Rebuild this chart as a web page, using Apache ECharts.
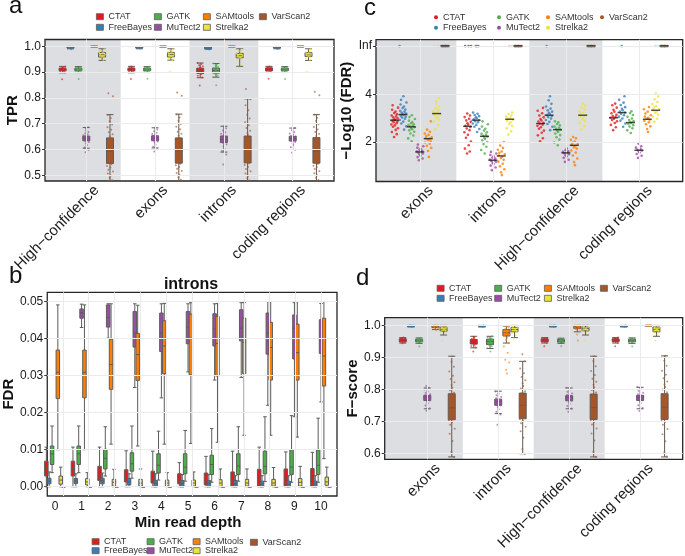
<!DOCTYPE html>
<html>
<head>
<meta charset="utf-8">
<script src="https://cdn.jsdelivr.net/npm/echarts@6/dist/echarts.min.js"></script>
<style>
html, body { margin: 0; padding: 0; background: #fff; }
#chart { width: 685px; height: 556px; }
</style>
</head>
<body>
<div id="chart"></div>
<script>
const tools = ['CTAT', 'FreeBayes', 'GATK', 'MuTect2', 'SAMtools', 'Strelka2', 'VarScan2'];
const toolColors = ['#e41a1c', '#377eb8', '#4daf4a', '#984ea3', '#ff7f00', '#ece33c', '#a65628'];

const regionsTPR = ['High−confidence', 'exons', 'introns', 'coding regions'];
const regionsOther = ['exons', 'introns', 'High−confidence', 'coding regions'];
const depths = ['0', '1', '2', '3', '4', '5', '6', '7', '8', '9', '10'];

const tprTicks = [0.5, 0.6, 0.7, 0.8, 0.9, 1.0];
const fdrTicks = [0, 0.01, 0.02, 0.03, 0.04, 0.05];
const logTicks = [2, 4, Infinity];
const fTicks = [0.6, 0.7, 0.8, 0.9, 1.0];
const INF = Infinity;

// ---- a: TPR, boxes [min, q1, median, q3, max] per region
const tprBoxCTAT = [[0.897, 0.905, 0.910, 0.915, 0.922], [0.897, 0.905, 0.910, 0.915, 0.922], [0.878, 0.895, 0.905, 0.915, 0.935], [0.898, 0.905, 0.911, 0.916, 0.922]];
const tprBoxFreeBayes = [[0.990, 0.993, 0.995, 0.997, 0.999], [0.990, 0.993, 0.995, 0.997, 0.999], [0.988, 0.991, 0.994, 0.996, 0.998], [0.990, 0.993, 0.995, 0.997, 0.999]];
const tprBoxGATK = [[0.898, 0.905, 0.910, 0.915, 0.921], [0.898, 0.905, 0.910, 0.915, 0.921], [0.880, 0.896, 0.906, 0.915, 0.933], [0.898, 0.905, 0.910, 0.915, 0.921]];
const tprBoxMuTect2 = [[0.605, 0.634, 0.643, 0.652, 0.685], [0.606, 0.634, 0.644, 0.653, 0.684], [0.590, 0.627, 0.639, 0.652, 0.690], [0.600, 0.633, 0.642, 0.651, 0.683]];
const tprBoxSAMtools = [[0.997, 0.998, 0.999, 1.0, 1.0], [0.997, 0.998, 0.999, 1.0, 1.0], [0.997, 0.998, 0.999, 1.0, 1.0], [0.997, 0.998, 0.999, 1.0, 1.0]];
const tprBoxStrelka2 = [[0.945, 0.958, 0.967, 0.976, 0.990], [0.946, 0.958, 0.968, 0.976, 0.990], [0.922, 0.955, 0.963, 0.972, 0.990], [0.945, 0.960, 0.966, 0.975, 0.990]];
const tprBoxVarScan2 = [[0.478, 0.546, 0.594, 0.645, 0.735], [0.478, 0.547, 0.595, 0.645, 0.737], [0.478, 0.548, 0.600, 0.652, 0.796], [0.478, 0.547, 0.594, 0.646, 0.735]];

// ---- a: TPR, single samples per region
const tprPtsCTAT = [
  [0.872, 0.899, 0.903, 0.905, 0.907, 0.908, 0.909, 0.910, 0.911, 0.912, 0.913, 0.914, 0.916, 0.918, 0.920],
  [0.873, 0.900, 0.904, 0.906, 0.907, 0.909, 0.910, 0.911, 0.912, 0.914, 0.915, 0.917, 0.919, 0.921],
  [0.848, 0.879, 0.886, 0.891, 0.895, 0.898, 0.901, 0.903, 0.905, 0.907, 0.909, 0.912, 0.915, 0.918, 0.922, 0.926, 0.931, 0.935],
  [0.874, 0.900, 0.904, 0.906, 0.908, 0.910, 0.911, 0.912, 0.913, 0.915, 0.917, 0.919, 0.921]
];
const tprPtsFreeBayes = [
  [0.988, 0.992, 0.994, 0.995, 0.996, 0.997, 0.998],
  [0.991, 0.993, 0.995, 0.996, 0.997, 0.998],
  [0.987, 0.990, 0.992, 0.993, 0.994, 0.995, 0.996, 0.997],
  [0.989, 0.993, 0.994, 0.995, 0.996, 0.997, 0.998]
];
const tprPtsGATK = [
  [0.873, 0.900, 0.904, 0.906, 0.908, 0.909, 0.910, 0.911, 0.912, 0.913, 0.915, 0.917, 0.919],
  [0.874, 0.901, 0.904, 0.906, 0.908, 0.909, 0.910, 0.912, 0.913, 0.914, 0.916, 0.918, 0.920],
  [0.849, 0.880, 0.887, 0.892, 0.896, 0.900, 0.903, 0.906, 0.908, 0.910, 0.913, 0.916, 0.920, 0.924, 0.929, 0.933],
  [0.873, 0.900, 0.904, 0.906, 0.908, 0.910, 0.911, 0.912, 0.914, 0.915, 0.917, 0.920]
];
const tprPtsMuTect2 = [
  [0.589, 0.598, 0.608, 0.617, 0.624, 0.629, 0.633, 0.636, 0.638, 0.640, 0.642, 0.644, 0.646, 0.648, 0.650, 0.652, 0.655, 0.659, 0.663, 0.668, 0.674, 0.680, 0.686],
  [0.592, 0.601, 0.611, 0.619, 0.626, 0.631, 0.634, 0.637, 0.640, 0.642, 0.644, 0.646, 0.648, 0.650, 0.653, 0.656, 0.660, 0.665, 0.671, 0.677, 0.684],
  [0.542, 0.581, 0.594, 0.604, 0.613, 0.620, 0.626, 0.630, 0.634, 0.637, 0.640, 0.643, 0.646, 0.649, 0.652, 0.656, 0.661, 0.667, 0.674, 0.682, 0.690],
  [0.587, 0.599, 0.609, 0.617, 0.624, 0.629, 0.633, 0.636, 0.639, 0.641, 0.643, 0.645, 0.647, 0.650, 0.653, 0.657, 0.662, 0.668, 0.675, 0.683]
];
const tprPtsSAMtools = [
  [0.997, 0.998, 0.999, 0.999, 1.0, 1.0],
  [0.997, 0.998, 0.999, 0.999, 1.0, 1.0],
  [0.996, 0.998, 0.998, 0.999, 1.0, 1.0],
  [0.997, 0.998, 0.999, 0.999, 1.0, 1.0]
];
const tprPtsStrelka2 = [
  [0.900, 0.944, 0.950, 0.955, 0.959, 0.962, 0.965, 0.968, 0.970, 0.973, 0.976, 0.979, 0.983, 0.988],
  [0.901, 0.945, 0.951, 0.956, 0.960, 0.963, 0.966, 0.969, 0.971, 0.974, 0.977, 0.980, 0.984, 0.988],
  [0.918, 0.930, 0.945, 0.951, 0.955, 0.958, 0.961, 0.963, 0.966, 0.969, 0.972, 0.976, 0.981, 0.987],
  [0.900, 0.946, 0.952, 0.957, 0.960, 0.963, 0.965, 0.968, 0.971, 0.974, 0.977, 0.981, 0.986, 0.989]
];
const tprPtsVarScan2 = [
  [0.481, 0.490, 0.499, 0.507, 0.515, 0.522, 0.530, 0.536, 0.543, 0.549, 0.556, 0.561, 0.568, 0.574, 0.581, 0.587, 0.592, 0.598, 0.604, 0.611, 0.617, 0.624, 0.631, 0.638, 0.644, 0.651, 0.659, 0.667, 0.676, 0.686, 0.697, 0.709, 0.722, 0.734, 0.806, 0.818],
  [0.483, 0.492, 0.501, 0.509, 0.517, 0.525, 0.532, 0.539, 0.545, 0.551, 0.557, 0.563, 0.570, 0.576, 0.582, 0.588, 0.594, 0.599, 0.606, 0.612, 0.619, 0.625, 0.632, 0.639, 0.645, 0.653, 0.661, 0.669, 0.678, 0.688, 0.699, 0.711, 0.724, 0.736, 0.808, 0.821],
  [0.480, 0.489, 0.498, 0.507, 0.516, 0.524, 0.532, 0.540, 0.547, 0.553, 0.560, 0.567, 0.574, 0.581, 0.588, 0.595, 0.601, 0.607, 0.614, 0.621, 0.628, 0.635, 0.642, 0.649, 0.656, 0.664, 0.673, 0.683, 0.694, 0.706, 0.720, 0.735, 0.752, 0.771, 0.795, 0.834],
  [0.482, 0.491, 0.500, 0.508, 0.516, 0.524, 0.531, 0.537, 0.544, 0.550, 0.556, 0.562, 0.568, 0.575, 0.581, 0.587, 0.593, 0.599, 0.605, 0.611, 0.618, 0.624, 0.631, 0.638, 0.645, 0.652, 0.660, 0.668, 0.677, 0.687, 0.698, 0.710, 0.723, 0.735, 0.810, 0.824]
];

// ---- b: FDR in introns by min read depth 0..10
const fdrBoxCTAT = [[0, 0.0029, 0.0049, 0.0069, 0.0107], [0, 0.0029, 0.0049, 0.0069, 0.0107], [0, 0.0017, 0.0030, 0.0055, 0.0107], [0, 0.0013, 0.0025, 0.0046, 0.0097], [0, 0.0010, 0.0018, 0.0042, 0.0096], [0, 0.0008, 0.0018, 0.0035, 0.0065], [0, 0.0005, 0.0015, 0.0037, 0.0082], [0, 0.0002, 0.0015, 0.0040, 0.0096], [0, 0.0002, 0.0020, 0.0047, 0.0107], [0, 0.0002, 0.0021, 0.0048, 0.0094], [0, 0.0002, 0.0021, 0.0049, 0.0093]];
const fdrBoxFreeBayes = [[0, 0.0008, 0.0015, 0.0023, 0.0040], [0, 0.0009, 0.0016, 0.0022, 0.0035], [0, 0.0008, 0.0016, 0.0023, 0.0037], [0, 0.0005, 0.0014, 0.0022, 0.0035], [0, 0, 0.0009, 0.0017, 0.0035], [0, 0, 0.0009, 0.0017, 0.0033], [0, 0, 0.0009, 0.0017, 0.0033], [0, 0, 0.0008, 0.0017, 0.0030], [0, 0, 0.0007, 0.0015, 0.0030], [0, 0, 0.0007, 0.0015, 0.0030], [0, 0, 0.0007, 0.0015, 0.0030]];
const fdrBoxGATK = [[0.0038, 0.0060, 0.0089, 0.0110, 0.0164], [0.0038, 0.0060, 0.0089, 0.0110, 0.0164], [0.0029, 0.0048, 0.0077, 0.0101, 0.0162], [0.0023, 0.0042, 0.0062, 0.0092, 0.0164], [0.0018, 0.0037, 0.0058, 0.0089, 0.0150], [0.0015, 0.0035, 0.0053, 0.0089, 0.0152], [0.0012, 0.0033, 0.0060, 0.0085, 0.0157], [0.0015, 0.0033, 0.0056, 0.0089, 0.0162], [0.0014, 0.0035, 0.0055, 0.0096, 0.0189], [0.0012, 0.0033, 0.0053, 0.0100, 0.0192], [0.0012, 0.0033, 0.0058, 0.0099, 0.0185]];
const fdrBoxMuTect2 = [null, [0.0430, 0.0455, 0.0470, 0.0480, 0.0493], [0.0401, 0.0431, 0.0457, 0.0491, 0.0494], [0.0268, 0.0377, 0.0415, 0.0473, 0.0494], [0.0240, 0.0365, 0.0415, 0.0469, 0.0494], [0.0310, 0.0386, 0.0431, 0.0473, 0.0494], [0.0288, 0.0380, 0.0426, 0.0467, 0.0494], [0.0295, 0.0394, 0.0428, 0.0478, 0.0497], [0.0220, 0.0358, 0.0415, 0.0469, 0.0500], [0.0189, 0.0345, 0.0428, 0.0464, 0.0497], [0.0229, 0.0360, 0.0393, 0.0451, 0.0495]];
const fdrBoxSAMtools = [[0.0100, 0.0238, 0.0309, 0.0369, 0.0491], [0.0100, 0.0240, 0.0309, 0.0369, 0.0491], [0.0115, 0.0263, 0.0330, 0.0398, 0.0494], [0.0110, 0.0287, 0.0357, 0.0414, 0.0490], [0.0115, 0.0305, 0.0380, 0.0448, 0.0495], [0.0117, 0.0302, 0.0401, 0.0466, 0.0497], [0.0120, 0.0299, 0.0387, 0.0460, 0.0495], [0.0139, 0.0306, 0.0390, 0.0455, 0.0497], [0.0139, 0.0288, 0.0376, 0.0444, 0.0500], [0.0134, 0.0288, 0.0362, 0.0439, 0.0500], [0.0076, 0.0272, 0.0353, 0.0455, 0.0500]];
const fdrBoxStrelka2 = [[0, 0.0007, 0.0018, 0.0029, 0.0053], [0, 0.0005, 0.0013, 0.0022, 0.0038], [0, 0.0002, 0.0012, 0.0020, 0.0047], [0, 0.0002, 0.0010, 0.0020, 0.0048], [0, 0.0002, 0.0010, 0.0018, 0.0038], [0, 0.0002, 0.0010, 0.0018, 0.0040], [0, 0.0001, 0.0010, 0.0019, 0.0048], [0, 0.0002, 0.0010, 0.0020, 0.0048], [0, 0.0002, 0.0010, 0.0020, 0.0052], [0, 0.0002, 0.0012, 0.0022, 0.0055], [0, 0.0004, 0.0013, 0.0026, 0.0053]];
const fdrBoxVarScan2 = [[0, 0, 0, 0, 0], [0, 0, 0, 0, 0], [0, 0, 0, 0, 0], [0, 0, 0, 0, 0], [0, 0, 0, 0, 0], [0, 0, 0, 0, 0], [0, 0, 0, 0, 0], [0, 0, 0, 0, 0], [0, 0, 0, 0, 0], [0, 0, 0, 0, 0], [0, 0, 0, 0, 0]];

// ---- c: -log10(FDR) per region (Inf = no false positives)
const logPtsCTAT = [
  [2.21, 2.33, 2.42, 2.51, 2.58, 2.64, 2.7, 2.74, 2.79, 2.83, 2.86, 2.9, 2.93, 2.96, 3.0, 3.04, 3.08, 3.12, 3.17, 3.22, 3.28, 3.36, 3.45, 3.55],
  [1.51, 1.6, 1.72, 1.86, 2.02, 2.18, 2.3, 2.41, 2.5, 2.57, 2.63, 2.68, 2.73, 2.79, 2.85, 2.91, 2.98, 3.05, 3.12, 3.2, INF, INF, INF],
  [2.03, 2.16, 2.28, 2.39, 2.48, 2.56, 2.62, 2.68, 2.73, 2.77, 2.81, 2.86, 2.91, 2.97, 3.04, 3.12, 3.21, 3.32, 3.44],
  [2.5, 2.62, 2.72, 2.8, 2.87, 2.93, 2.98, 3.02, 3.06, 3.1, 3.15, 3.21, 3.28, 3.36, 3.45, 3.55, 3.62]
];
const logPtsFreeBayes = [
  [2.52, 2.66, 2.78, 2.86, 2.93, 2.98, 3.03, 3.07, 3.11, 3.14, 3.17, 3.2, 3.24, 3.28, 3.32, 3.37, 3.43, 3.5, 3.58, 3.67, 3.78, 3.93, INF],
  [2.42, 2.55, 2.64, 2.72, 2.78, 2.83, 2.88, 2.92, 2.96, 3.0, 3.04, 3.09, 3.14, 3.19, 3.24, INF, INF, INF],
  [2.5, 2.64, 2.76, 2.85, 2.93, 2.99, 3.05, 3.1, 3.14, 3.18, 3.23, 3.28, 3.34, 3.41, 3.5, 3.61, 3.76, 3.93, INF],
  [2.64, 2.78, 2.9, 2.99, 3.07, 3.13, 3.19, 3.24, 3.29, 3.34, 3.4, 3.47, 3.56, 3.66, 3.78, 3.93, INF]
];
const logPtsGATK = [
  [2.03, 2.15, 2.27, 2.36, 2.43, 2.49, 2.54, 2.58, 2.62, 2.65, 2.68, 2.71, 2.75, 2.79, 2.84, 2.9, 2.97, 3.05, 3.13],
  [1.51, 1.66, 1.8, 1.91, 2.0, 2.07, 2.13, 2.18, 2.22, 2.26, 2.3, 2.35, 2.41, 2.48, 2.56, 2.65, 2.75, 2.87],
  [1.86, 1.98, 2.1, 2.2, 2.29, 2.36, 2.42, 2.48, 2.52, 2.56, 2.6, 2.65, 2.7, 2.76, 2.83, 2.87],
  [2.38, 2.49, 2.58, 2.65, 2.71, 2.76, 2.8, 2.84, 2.88, 2.93, 2.99, 3.06, 3.14, 3.22, 3.3]
];
const logPtsMuTect2 = [
  [1.23, 1.3, 1.36, 1.42, 1.47, 1.51, 1.54, 1.57, 1.6, 1.63, 1.67, 1.71, 1.76, 1.82, 1.89],
  [0.81, 0.92, 1.0, 1.07, 1.12, 1.16, 1.2, 1.23, 1.26, 1.3, 1.34, 1.39, 1.45, 1.51, 1.58],
  [1.16, 1.25, 1.33, 1.39, 1.44, 1.48, 1.52, 1.55, 1.58, 1.61, 1.65, 1.72],
  [1.33, 1.42, 1.49, 1.55, 1.6, 1.64, 1.67, 1.71, 1.76, 1.82, 1.93]
];
const logPtsSAMtools = [
  [1.37, 1.62, 1.75, 1.84, 1.92, 1.98, 2.04, 2.09, 2.13, 2.16, 2.2, 2.25, 2.3, 2.36, 2.43, 2.52, 2.87],
  [0.6, 0.72, 0.85, 0.97, 1.08, 1.17, 1.25, 1.32, 1.38, 1.43, 1.48, 1.54, 1.6, 1.67, 1.75, 1.85, 2.0],
  [1.02, 1.15, 1.3, 1.43, 1.55, 1.64, 1.72, 1.78, 1.83, 1.87, 1.91, 1.96, 2.02, 2.09, 2.16, 2.21],
  [2.42, 2.55, 2.66, 2.75, 2.83, 2.89, 2.94, 2.98, 3.02, 3.07, 3.13, 3.2, 3.28, 3.38, 3.48]
];
const logPtsStrelka2 = [
  [2.52, 2.72, 2.85, 2.94, 3.01, 3.07, 3.12, 3.17, 3.21, 3.25, 3.3, 3.36, 3.42, 3.5, 3.6, 3.72, 3.86, INF, INF, INF],
  [2.31, 2.45, 2.58, 2.68, 2.76, 2.83, 2.89, 2.94, 2.98, 3.02, 3.07, 3.12, 3.18, 3.24, INF, INF, INF],
  [2.52, 2.67, 2.79, 2.88, 2.96, 3.03, 3.09, 3.14, 3.19, 3.24, 3.3, 3.37, 3.45, 3.54, 3.62, INF, INF],
  [2.85, 2.98, 3.08, 3.16, 3.23, 3.29, 3.34, 3.39, 3.45, 3.52, 3.6, 3.69, 3.8, 3.92, 4.04, INF, INF]
];
const logPtsVarScan2 = [
  [INF, INF, INF, INF, INF, INF, INF, INF],
  [INF, INF, INF, INF, INF, INF, INF, INF],
  [INF, INF, INF, INF, INF, INF, INF, INF],
  [INF, INF, INF, INF, INF, INF, INF, INF]
];
const logMedCTAT = [2.92, 2.66, 2.78, 3.02];
const logMedFreeBayes = [3.16, 2.92, 3.13, 3.24];
const logMedGATK = [2.64, 2.24, 2.52, 2.82];
const logMedMuTect2 = [1.58, 1.23, 1.54, 1.65];
const logMedSAMtools = [2.14, 1.41, 1.86, 2.96];
const logMedStrelka2 = [3.2, 2.96, 3.13, 3.34];
const logMedVarScan2 = [INF, INF, INF, INF];

// ---- d: F-score per region
const fBoxCTAT = [[0.945, 0.949, 0.954, 0.958, 0.962], [0.930, 0.942, 0.949, 0.956, 0.966], [0.945, 0.949, 0.954, 0.958, 0.962], [0.945, 0.950, 0.954, 0.958, 0.962]];
const fBoxFreeBayes = [[0.995, 0.997, 0.998, 0.999, 1.0], [0.995, 0.997, 0.998, 0.999, 1.0], [0.995, 0.997, 0.998, 0.999, 1.0], [0.995, 0.997, 0.998, 0.999, 1.0]];
const fBoxGATK = [[0.944, 0.949, 0.953, 0.957, 0.961], [0.928, 0.940, 0.950, 0.957, 0.966], [0.944, 0.948, 0.952, 0.956, 0.960], [0.944, 0.949, 0.953, 0.957, 0.961]];
const fBoxMuTect2 = [[0.740, 0.766, 0.776, 0.782, 0.805], [0.725, 0.751, 0.763, 0.770, 0.795], [0.740, 0.765, 0.775, 0.781, 0.805], [0.740, 0.766, 0.776, 0.782, 0.807]];
const fBoxSAMtools = [[0.987, 0.993, 0.996, 0.999, 1.0], [0.945, 0.967, 0.977, 0.987, 0.998], [0.980, 0.990, 0.994, 0.998, 1.0], [0.998, 0.999, 1.0, 1.0, 1.0]];
const fBoxStrelka2 = [[0.970, 0.982, 0.988, 0.995, 1.0], [0.962, 0.980, 0.987, 0.994, 1.0], [0.970, 0.983, 0.990, 0.995, 1.0], [0.966, 0.980, 0.988, 0.995, 1.0]];
const fBoxVarScan2 = [[0.590, 0.706, 0.743, 0.787, 0.904], [0.600, 0.709, 0.751, 0.789, 0.888], [0.590, 0.707, 0.744, 0.786, 0.904], [0.590, 0.707, 0.745, 0.787, 0.905]];

const fPtsCTAT = [
  [0.944, 0.947, 0.949, 0.951, 0.952, 0.953, 0.954, 0.955, 0.956, 0.957, 0.958, 0.960, 0.962],
  [0.919, 0.931, 0.936, 0.940, 0.943, 0.945, 0.947, 0.949, 0.951, 0.953, 0.955, 0.958, 0.961, 0.965],
  [0.935, 0.946, 0.949, 0.951, 0.952, 0.954, 0.955, 0.956, 0.957, 0.959, 0.961],
  [0.935, 0.946, 0.949, 0.951, 0.953, 0.954, 0.955, 0.956, 0.958, 0.960, 0.962]
];
const fPtsFreeBayes = [
  [0.996, 0.997, 0.997, 0.998, 0.998, 0.999, 1.0],
  [0.996, 0.997, 0.998, 0.998, 0.999, 1.0],
  [0.996, 0.997, 0.997, 0.998, 0.999, 1.0],
  [0.996, 0.997, 0.998, 0.998, 0.999, 1.0]
];
const fPtsGATK = [
  [0.934, 0.945, 0.948, 0.950, 0.952, 0.953, 0.954, 0.955, 0.957, 0.959, 0.961],
  [0.919, 0.929, 0.935, 0.939, 0.943, 0.946, 0.949, 0.951, 0.953, 0.956, 0.959, 0.962, 0.966],
  [0.935, 0.945, 0.948, 0.950, 0.951, 0.952, 0.954, 0.955, 0.957, 0.959],
  [0.934, 0.946, 0.949, 0.951, 0.953, 0.954, 0.955, 0.957, 0.959, 0.961]
];
const fPtsMuTect2 = [
  [0.734, 0.742, 0.750, 0.757, 0.762, 0.766, 0.769, 0.772, 0.774, 0.776, 0.778, 0.780, 0.782, 0.785, 0.789, 0.794, 0.800, 0.806, 0.811],
  [0.690, 0.722, 0.731, 0.739, 0.745, 0.750, 0.754, 0.758, 0.761, 0.764, 0.767, 0.770, 0.773, 0.777, 0.782, 0.788, 0.794],
  [0.731, 0.741, 0.749, 0.756, 0.761, 0.765, 0.769, 0.772, 0.774, 0.776, 0.778, 0.781, 0.784, 0.788, 0.793, 0.799, 0.806],
  [0.733, 0.743, 0.751, 0.758, 0.763, 0.767, 0.770, 0.773, 0.775, 0.777, 0.779, 0.782, 0.785, 0.790, 0.796, 0.802, 0.808]
];
const fPtsSAMtools = [
  [0.985, 0.990, 0.993, 0.995, 0.997, 0.998, 0.999, 1.0],
  [0.850, 0.862, 0.884, 0.893, 0.915, 0.934, 0.945, 0.955, 0.962, 0.967, 0.971, 0.975, 0.978, 0.981, 0.985, 0.989, 0.993, 0.997],
  [0.953, 0.972, 0.982, 0.988, 0.991, 0.993, 0.995, 0.997, 0.999],
  [0.998, 0.999, 1.0, 1.0, 1.0]
];
const fPtsStrelka2 = [
  [0.952, 0.975, 0.980, 0.984, 0.987, 0.989, 0.991, 0.993, 0.995, 0.998],
  [0.960, 0.970, 0.977, 0.981, 0.984, 0.987, 0.990, 0.993, 0.996, 0.999],
  [0.952, 0.976, 0.982, 0.986, 0.989, 0.991, 0.993, 0.995, 0.998],
  [0.953, 0.972, 0.978, 0.983, 0.986, 0.988, 0.991, 0.993, 0.996, 0.999]
];
const fPtsVarScan2 = [
  [0.590, 0.605, 0.640, 0.662, 0.678, 0.690, 0.698, 0.704, 0.709, 0.714, 0.720, 0.726, 0.732, 0.737, 0.742, 0.747, 0.752, 0.758, 0.764, 0.770, 0.776, 0.783, 0.790, 0.798, 0.806, 0.814, 0.823, 0.833, 0.843, 0.856, 0.871, 0.887, 0.902],
  [0.600, 0.615, 0.650, 0.670, 0.684, 0.695, 0.702, 0.708, 0.713, 0.718, 0.724, 0.730, 0.736, 0.742, 0.747, 0.752, 0.757, 0.763, 0.769, 0.775, 0.781, 0.788, 0.795, 0.803, 0.811, 0.820, 0.829, 0.839, 0.851, 0.866, 0.888, 0.910],
  [0.590, 0.606, 0.641, 0.663, 0.679, 0.691, 0.699, 0.705, 0.710, 0.715, 0.721, 0.727, 0.733, 0.738, 0.743, 0.748, 0.753, 0.759, 0.765, 0.771, 0.777, 0.784, 0.791, 0.799, 0.807, 0.815, 0.824, 0.834, 0.845, 0.858, 0.873, 0.889, 0.903],
  [0.591, 0.604, 0.639, 0.661, 0.677, 0.690, 0.699, 0.705, 0.711, 0.716, 0.722, 0.728, 0.734, 0.739, 0.744, 0.749, 0.754, 0.760, 0.766, 0.772, 0.778, 0.785, 0.792, 0.800, 0.808, 0.816, 0.825, 0.835, 0.846, 0.859, 0.874, 0.890, 0.905]
];

const tprBox = [tprBoxCTAT, tprBoxFreeBayes, tprBoxGATK, tprBoxMuTect2, tprBoxSAMtools, tprBoxStrelka2, tprBoxVarScan2];
const tprPts = [tprPtsCTAT, tprPtsFreeBayes, tprPtsGATK, tprPtsMuTect2, tprPtsSAMtools, tprPtsStrelka2, tprPtsVarScan2];
const fdrBox = [fdrBoxCTAT, fdrBoxFreeBayes, fdrBoxGATK, fdrBoxMuTect2, fdrBoxSAMtools, fdrBoxStrelka2, fdrBoxVarScan2];
const logPts = [logPtsCTAT, logPtsFreeBayes, logPtsGATK, logPtsMuTect2, logPtsSAMtools, logPtsStrelka2, logPtsVarScan2];
const logMed = [logMedCTAT, logMedFreeBayes, logMedGATK, logMedMuTect2, logMedSAMtools, logMedStrelka2, logMedVarScan2];
const fBox = [fBoxCTAT, fBoxFreeBayes, fBoxGATK, fBoxMuTect2, fBoxSAMtools, fBoxStrelka2, fBoxVarScan2];
const fPts = [fPtsCTAT, fPtsFreeBayes, fPtsGATK, fPtsMuTect2, fPtsSAMtools, fPtsStrelka2, fPtsVarScan2];

// where "Inf" sits on the -log10 axis
const INF_POS = 6.05;
const fin = v => (Number.isFinite(v) ? v : INF_POS);

// fixed horizontal jitter pattern (fraction of half width)
const JIT = [-0.15, 0.62, -0.78, 0.31, 0.94, -0.47, 0.08, -0.92, 0.55, -0.26, 0.79, -0.63, 0.19, -0.05, 0.87, -0.38, 0.43, -0.84, 0.68, -0.11, 0.26, -0.7, 0.99, -0.55, 0.12, -0.97, 0.49, -0.31, 0.73, 0.02];
// rotated labels hang a little right of their tick
const LABEL_SHIFT = 0.15;

const FONT = 'Liberation Sans, Arial, sans-serif';
const grids = [], xAxes = [], yAxes = [], series = [], legends = [], graphics = [];

// same side-by-side offsets as the boxplot layout, in category units
function dodge(bandPx, n, t) {
  const avail = bandPx * 0.8 - 2;
  const gap = avail / n * 0.3;
  const w = (avail - gap * (n - 1)) / n;
  return (w / 2 - avail / 2 + t * (gap + w)) / bandPx;
}

function makePanel(cfg) {
  const [l, t, r, b] = cfg.frame;
  const w = r - l, h = b - t, n = cfg.cats.length;
  const unit = w / (n + 0.2);
  const go = grids.length;
  const rotated = cfg.rotate !== 0;
  grids.push({left: l, top: t, width: w, height: h, show: true, z: 2.5,
    borderColor: '#262626', borderWidth: 1.3, backgroundColor: 'transparent'});
  grids.push({left: l + 0.1 * unit, top: t, width: unit * n, height: h});
  const xo = xAxes.length;
  const labelPos = cfg.cats.map((c, i) => i + 1 + LABEL_SHIFT);
  xAxes.push({gridIndex: go, type: 'value', min: 0.4, max: n + 0.6, show: rotated,
    axisLine: {show: false}, axisTick: {show: false}, splitLine: {show: false},
    axisLabel: {customValues: labelPos, formatter: v => cfg.cats[Math.round(v - LABEL_SHIFT) - 1],
      rotate: 45, fontSize: 15, color: '#1a1a1a', margin: 7, fontFamily: FONT}});
  xAxes.push({gridIndex: go + 1, type: 'category', data: cfg.cats, boundaryGap: true,
    axisLine: {show: false},
    axisTick: {alignWithLabel: true, length: 3, lineStyle: {color: '#333'}},
    axisLabel: {show: !rotated, interval: 0, fontSize: 12, color: '#1a1a1a', margin: 5, fontFamily: FONT},
    splitLine: {show: false},
    name: cfg.xName || '', nameLocation: 'middle', nameGap: 19,
    nameTextStyle: {fontWeight: 'bold', fontSize: 15, color: '#111', fontFamily: FONT}});
  const yo = yAxes.length;
  const ticks = cfg.ticks.map(fin);
  yAxes.push({gridIndex: go, type: 'value', min: cfg.y[0], max: cfg.y[1],
    axisLine: {show: false}, splitLine: {show: false},
    axisTick: {show: true, customValues: ticks, length: 3, lineStyle: {color: '#333'}},
    axisLabel: {customValues: ticks, formatter: cfg.fmt, fontSize: 12, color: '#1a1a1a', margin: 4, fontFamily: FONT},
    name: cfg.yName, nameLocation: 'middle', nameGap: cfg.yGap,
    nameTextStyle: {fontWeight: 'bold', fontSize: 15, color: '#111', fontFamily: FONT}});
  yAxes.push({gridIndex: go + 1, type: 'value', min: cfg.y[0], max: cfg.y[1], show: false});
  if (cfg.shade) {
    series.push({type: 'scatter', data: [], xAxisIndex: xo, yAxisIndex: yo, silent: true, z: 0,
      markArea: {silent: true, itemStyle: {color: '#dcdee2'},
        data: [[{xAxis: 0.4}, {xAxis: 1.5}], [{xAxis: 2.5}, {xAxis: 3.5}]]}});
  }
  series.push({type: 'scatter', data: [], xAxisIndex: xo, yAxisIndex: yo, silent: true, z: 1,
    markLine: {silent: true, symbol: 'none', label: {show: false}, animation: false,
      lineStyle: {color: '#ebebeb', width: 1, type: 'solid'},
      data: ticks.map(v => ({yAxis: v})).concat(cfg.cats.map((c, i) => ({xAxis: i + 1})))}});
  return {xo, yo, unit};
}

function addBoxes(p, boxes, bw) {
  tools.forEach((tool, t) => {
    series.push({type: 'boxplot', name: tool, xAxisIndex: p.xo + 1, yAxisIndex: p.yo + 1, z: 3, silent: true,
      boxWidth: [bw, bw],
      itemStyle: {color: toolColors[t], borderColor: '#5c5c5c', borderWidth: 1},
      data: boxes[t].map(s => s || ['-', '-', '-', '-', '-'])});
  });
}

function addPoints(p, pts, halfPx, size, opacity) {
  tools.forEach((tool, t) => {
    const off = dodge(p.unit, tools.length, t);
    const data = [];
    pts[t].forEach((arr, i) => arr.forEach((v, k) => {
      data.push([i + 1 + off + JIT[(k + 3 * t) % JIT.length] * halfPx / p.unit, fin(v)]);
    }));
    series.push({type: 'scatter', name: tool, xAxisIndex: p.xo, yAxisIndex: p.yo, z: 4, silent: true,
      symbol: 'circle', symbolSize: size, itemStyle: {color: toolColors[t], opacity: opacity}, data: data});
  });
}

// legend in four columns: pos holds top or bottom of each column
function addLegend(cols, pos, rowH, dots) {
  [[0, 1], [2, 3], [4, 5], [6]].forEach((g, c) => {
    legends.push(Object.assign({orient: 'vertical', left: cols[c], padding: 0, itemGap: 0,
      itemWidth: dots ? 4 : 7, itemHeight: dots ? 4 : 6, icon: dots ? 'circle' : 'rect', selectedMode: false,
      data: g.map(t => ({name: tools[t],
        itemStyle: dots ? {color: toolColors[t], borderWidth: 0}
                        : {color: toolColors[t], borderColor: '#5c5c5c', borderWidth: 0.8}})),
      textStyle: {fontSize: 9, lineHeight: rowH, color: '#333', fontFamily: FONT}}, pos[c]));
  });
}

function letter(txt, x, y) {
  graphics.push({type: 'text', x: x, y: y, silent: true,
    style: {text: txt, fontSize: 24, fontFamily: FONT, fill: '#111', verticalAlign: 'middle', align: 'left'}});
}

// panel a
const pa = makePanel({frame: [45, 39.5, 334, 181], y: [0.478, 1.026], cats: regionsTPR, ticks: tprTicks,
  fmt: v => v.toFixed(1), yName: 'TPR', yGap: 22, rotate: 45, shade: true});
addBoxes(pa, tprBox, 7);
addPoints(pa, tprPts, 3, 2, 0.65);

// panel b
const pb = makePanel({frame: [39, 292.3, 337, 496], y: [-0.0025, 0.0525], cats: depths, ticks: fdrTicks,
  fmt: v => v.toFixed(2), yName: 'FDR', yGap: 24, rotate: 0, xName: 'Min read depth', shade: false});
addBoxes(pb, fdrBox, 3.5);

// panel c
const pc = makePanel({frame: [376, 39.7, 682.7, 181.5], y: [0.33, 6.32], cats: regionsOther, ticks: logTicks,
  fmt: v => (Math.abs(v - INF_POS) < 1e-6 ? 'Inf' : String(v)), yName: '−Log10 (FDR)', yGap: 10,
  rotate: 45, shade: true});
addPoints(pc, logPts, 3.5, 2.6, 0.8);
tools.forEach((tool, t) => {
  const off = dodge(pc.unit, tools.length, t);
  series.push({type: 'scatter', xAxisIndex: pc.xo, yAxisIndex: pc.yo, z: 5, silent: true,
    symbol: 'rect', symbolSize: [9, 1.4], itemStyle: {color: '#1a1a1a', opacity: 0.8},
    data: logMed[t].map((m, i) => [i + 1 + off, fin(m)])});
});

// panel d
const pd = makePanel({frame: [384.7, 317.7, 682.7, 459.3], y: [0.5826, 1.024], cats: regionsOther, ticks: fTicks,
  fmt: v => v.toFixed(1), yName: 'F−score', yGap: 21, rotate: 45, shade: true});
addBoxes(pd, fBox, 7);
addPoints(pd, fPts, 3, 2, 0.65);

const topA = {top: 11.4}, topC = {top: 12.1}, topD = {top: 283.3};
addLegend([96, 154, 203, 259], [topA, topA, topA, topA], 10.6, false);
addLegend([91.7, 146.7, 192.7, 250], [{bottom: 0.8}, {bottom: 0.8}, {bottom: 0.8}, {bottom: 9.2}], 8.4, false);
addLegend([434, 497, 546, 600], [topC, topC, topC, topC], 10.4, true);
addLegend([436.7, 494.3, 544, 600], [topD, topD, topD, topD], 10, false);

letter('a', 9, 6.6);
letter('b', 9, 276.6);
letter('c', 364, 8.3);
letter('d', 356, 278.3);
graphics.push({type: 'text', x: 191, y: 284.4, silent: true,
  style: {text: 'introns', fontSize: 16, fontWeight: 'bold', fontFamily: FONT, fill: '#111', verticalAlign: 'middle', align: 'center'}});

const myChart = echarts.init(document.getElementById('chart'), null, {renderer: 'canvas'});
myChart.setOption({
  animation: false,
  backgroundColor: '#ffffff',
  textStyle: {fontFamily: FONT},
  grid: grids,
  xAxis: xAxes,
  yAxis: yAxes,
  legend: legends,
  graphic: graphics,
  series: series
});
</script>
</body>
</html>
